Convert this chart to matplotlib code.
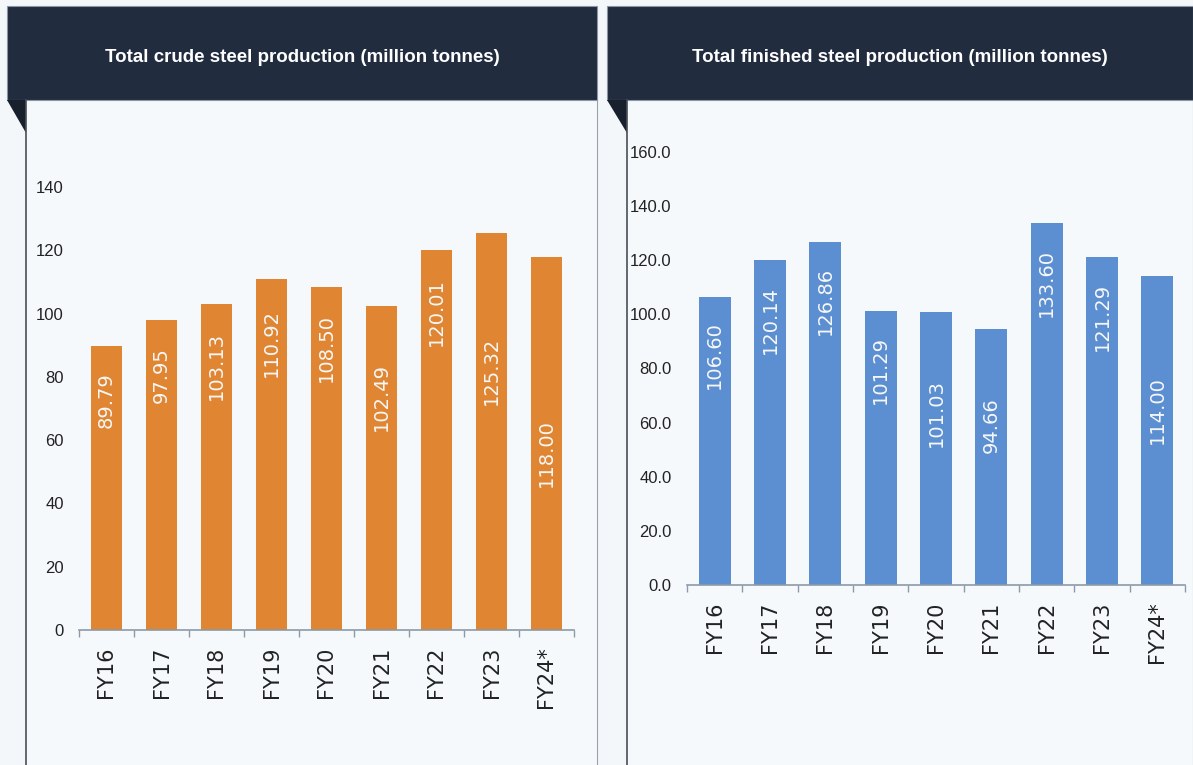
import matplotlib
matplotlib.use("Agg")
from matplotlib import pyplot as plt
from matplotlib.patches import Rectangle, Polygon
import numpy as np

# data
years = ["FY16", "FY17", "FY18", "FY19", "FY20", "FY21", "FY22", "FY23", "FY24*"]
crude = [89.79, 97.95, 103.13, 110.92, 108.50, 102.49, 120.01, 125.32, 118.00]
finished = [106.60, 120.14, 126.86, 101.29, 101.03, 94.66, 133.60, 121.29, 114.00]
crude_ticks = [0, 20, 40, 60, 80, 100, 120, 140]
finished_ticks = [0, 20, 40, 60, 80, 100, 120, 140, 160]

# where each value label sits inside its bar (data units, label centre)
crude_label_y = [72.6, 80.5, 83.4, 90.6, 89.0, 73.6, 100.4, 82.0, 56.0]
finished_label_y = [85.0, 98.0, 105.0, 79.5, 63.5, 59.0, 111.6, 99.0, 64.7]

W, H = 1193, 765
bg = "#f3f7fa"
navy = "#212c3f"
narrow = ["Liberation Sans Narrow", "Liberation Sans"]

fig = plt.figure(figsize=(W / 100, H / 100), dpi=100, facecolor=bg)

# background layer in pixel coordinates for the panel frames
frame = fig.add_axes([0, 0, 1, 1])
frame.set_xlim(0, W)
frame.set_ylim(H, 0)
frame.axis("off")


def draw_panel(x0, x1, inner, title):
    frame.add_patch(Rectangle((inner, 100), x1 - inner, H - 100,
                              facecolor="#f5f9fc", edgecolor="none"))
    frame.add_patch(Rectangle((x0, 6), x1 - x0, 94, facecolor=navy,
                              edgecolor="#8b96a3", linewidth=0.8))
    frame.add_patch(Polygon([(x0, 100), (inner, 100), (inner, 133)],
                            closed=True, facecolor="#19202d", edgecolor="none"))
    frame.plot([inner, inner], [100, H], color="#4a4f57", linewidth=1.2)
    frame.plot([x1, x1], [100, H], color="#9aa3ad", linewidth=0.8)
    frame.text((x0 + x1) / 2, 57, title, color="white", fontsize=13.5,
               fontweight="bold", family=narrow, ha="center", va="center")


draw_panel(7, 597, 26, "Total crude steel production (million tonnes)")
draw_panel(607, 1193, 627, "Total finished steel production (million tonnes)")


def draw_bars(rect, values, label_y, color, ticks, ylim, fmt):
    ax = fig.add_axes(rect)
    ax.set_facecolor("none")
    x = np.arange(len(years))
    ax.bar(x, values, width=0.58, color=color, zorder=2)
    for xi, v, ly in zip(x, values, label_y):
        ax.text(xi, ly, f"{v:.2f}", rotation=90, ha="center", va="center",
                color="#f7f7f7", fontsize=14, family="DejaVu Sans", zorder=3)
    ax.set_xlim(-0.5, len(years) - 0.5)
    ax.set_ylim(*ylim)
    ax.set_xticks(x)
    ax.set_xticklabels(years, rotation=90, fontsize=15, family="DejaVu Sans",
                       color="#222222")
    ax.set_xticks(np.arange(len(years) + 1) - 0.5, minor=True)
    ax.tick_params(axis="x", which="major", length=0, pad=12)
    ax.tick_params(axis="x", which="minor", length=5, color="#8c99a6", width=1)
    ax.set_yticks(ticks)
    ax.set_yticklabels([fmt.format(t) for t in ticks], fontsize=12,
                       family=narrow, color="#222222")
    ax.tick_params(axis="y", length=0, pad=11)
    for side in ("top", "right", "left"):
        ax.spines[side].set_visible(False)
    ax.spines["bottom"].set_color("#8c99a6")
    ax.spines["bottom"].set_linewidth(1.2)
    return ax


# left: crude steel
draw_bars([79 / W, (H - 630) / H, 495 / W, 443 / H], crude, crude_label_y,
          "#e08633", crude_ticks, (0, 140), "{:d}")
# right: finished steel
draw_bars([687 / W, (H - 585) / H, 498 / W, 433 / H], finished, finished_label_y,
          "#5b8fd1", finished_ticks, (0, 160), "{:.1f}")

fig.savefig("out.png", dpi=100, facecolor=bg)
